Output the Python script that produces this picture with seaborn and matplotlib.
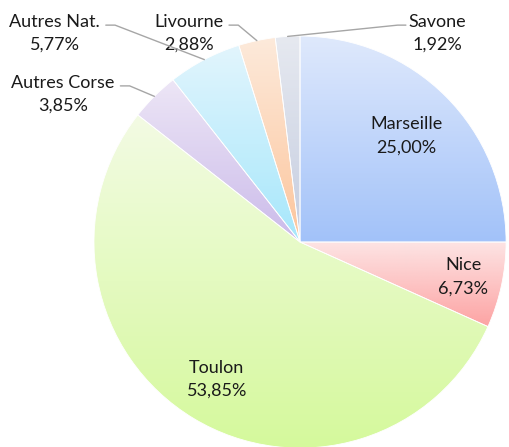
import matplotlib
matplotlib.use('Agg')
import matplotlib.pyplot as plt
import numpy as np
import seaborn as sns
from matplotlib.colors import LinearSegmentedColormap

# Data
ports = ['Marseille', 'Nice', 'Toulon', 'Autres Corse', 'Autres Nat.', 'Livourne', 'Savone']
shares = [25.00, 6.73, 53.85, 3.85, 5.77, 2.88, 1.92]
pct_labels = ['25,00%', '6,73%', '53,85%', '3,85%', '5,77%', '2,88%', '1,92%']

# gradient colours (top, bottom) per slice
grad_top = ['#dfe9fc', '#fde4e4', '#f3fbe4', '#ede6f6', '#e2f5fd', '#fdeadb', '#e6e9f0']
grad_bottom = ['#a2c2f9', '#fda3a3', '#d5f99c', '#cbbbea', '#a6e7fb', '#fcc59c', '#c5cde0']

sns.set_style('white')
plt.rcParams['font.family'] = ['Lato', 'DejaVu Sans']

fig = plt.figure(figsize=(5.10, 4.47), dpi=100)
ax = fig.add_axes([0, 0, 1, 1])

wedges, _ = ax.pie(shares, startangle=90, counterclock=False, radius=1,
                   wedgeprops=dict(edgecolor='white', linewidth=0.6))

# vertical gradient fill clipped to each wedge
for w, c1, c2 in zip(wedges, grad_top, grad_bottom):
    bb = w.get_path().get_extents()
    cmap = LinearSegmentedColormap.from_list('g', [c2, c1])
    grad = np.linspace(0, 1, 256).reshape(-1, 1)
    im = ax.imshow(grad, cmap=cmap, extent=[bb.x0, bb.x1, bb.y0, bb.y1],
                   origin='lower', aspect='auto', zorder=w.get_zorder() - 0.1)
    im.set_clip_path(w)
    w.set_facecolor('none')

# label layout: inside labels at a fraction of radius, outside labels at fixed spots
inside = {'Marseille': 0.73, 'Nice': 0.81, 'Toulon': 0.78}
outside = {'Autres Corse': (-1.15, 0.718), 'Autres Nat.': (-1.19, 1.013),
           'Livourne': (-0.539, 1.013), 'Savone': (0.665, 1.013)}
fs = 13
ls = 1.55

for w, name, pct in zip(wedges, ports, pct_labels):
    mid = np.deg2rad((w.theta1 + w.theta2) / 2)
    txt = f'{name}\n{pct}'
    if name in inside:
        r = inside[name]
        ax.text(r * np.cos(mid), r * np.sin(mid), txt, ha='center', va='center',
                fontsize=fs, color='#1a1a1a', linespacing=ls)
    else:
        tx, ty = outside[name]
        t = ax.text(tx, ty, txt, ha='center', va='center', fontsize=fs,
                    color='#1a1a1a', linespacing=ls)
        # leader line: short horizontal stub from first line, then to wedge edge
        fig.canvas.draw()
        ext = t.get_window_extent().transformed(ax.transData.inverted())
        edge = (np.cos(mid), np.sin(mid))
        ly = ty + 0.04
        if edge[0] > tx:
            x0 = ext.x1 + 0.025
            xs = [x0, x0 + 0.045, edge[0]]
        else:
            x0 = ext.x0 - 0.01
            xs = [x0, x0 - 0.04, edge[0]]
        ax.plot(xs, [ly, ly, edge[1]], color='#a6a6a6', linewidth=1, zorder=5)

ax.set_xlim(-1.456, 1.019)
ax.set_ylim(-0.995, 1.175)
ax.set_aspect('auto')
ax.axis('off')

fig.savefig('out.png', dpi=100)
